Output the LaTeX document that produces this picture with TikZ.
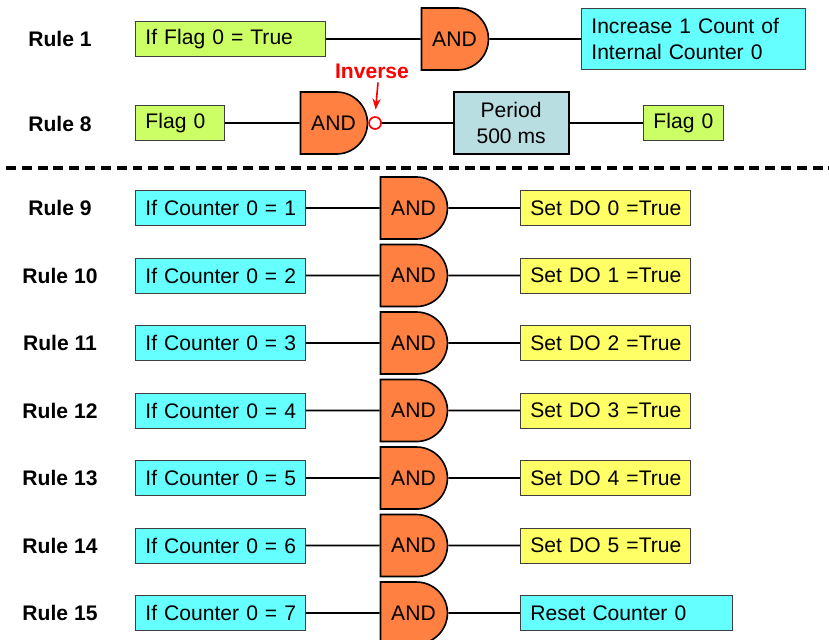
\documentclass[tikz,border=0pt]{standalone}
\usepackage{fontspec}
\setmainfont{Liberation Sans}
\usetikzlibrary{arrows.meta,positioning,shapes.misc}
\definecolor{flaggreen}{RGB}{204,255,102}
\definecolor{condcyan}{RGB}{102,255,255}
\definecolor{setyellow}{RGB}{255,255,102}
\definecolor{gateorange}{RGB}{255,128,64}
\definecolor{timerblue}{RGB}{185,222,226}

\begin{document}
\begin{tikzpicture}[
  x=0.03cm, y=-0.03cm,
  font=\fontsize{18}{22}\selectfont,
  panel/.style={draw=black!75, line width=0.8pt, inner xsep=0.3cm, anchor=west},
  box/.style={panel, minimum height=1.05cm, text width=#1,
              execute at begin node=\hbox\bgroup, execute at end node=\egroup},
  gate/.style={rounded rectangle, rounded rectangle left arc=none, draw, line width=1.4pt,
               fill=gateorange, minimum width=2.01cm, minimum height=1.86cm, inner sep=0pt},
  rule/.style={font=\fontsize{18}{22}\selectfont\bfseries},
  wire/.style={line width=1.6pt},
]
\useasboundingbox (0,0) rectangle (829,640);

% Rule 1
\node[rule] (r1) at (60,39) {Rule 1};
\node[box=5.1cm, fill=flaggreen] (c1) at (135,39) {If Flag 0 = True};
\node[gate, right=2.84cm of c1] (g1) {AND};
\node[panel, text width=6.12cm, align=left, fill=condcyan, minimum height=1.83cm,
      right=2.75cm of g1] (o1) {Increase 1 Count of\\Internal Counter 0};
\draw[wire] (c1) -- (g1);
\draw[wire] (g1) -- (o1);

% Rule 8
\node[rule] (r8) at (60,124) {Rule 8};
\node[box=2.07cm, fill=flaggreen] (f8) at (135,123) {Flag 0};
\node[gate, right=2.24cm of f8] (g8) {AND};
\node[circle, draw=red, line width=1.4pt, fill=white, minimum size=0.36cm, inner sep=0pt,
      right=0pt of g8] (inv) {};
\node[draw, line width=1.8pt, fill=timerblue, minimum width=3.45cm, minimum height=1.86cm,
      align=center, right=2.12cm of inv] (per) {Period\\500 ms};
\node[box=1.8cm, fill=flaggreen, right=2.2cm of per] (fo8) {Flag 0};
\node[rule, text=red] (invlbl) at (372,71) {Inverse};
\draw[wire] (f8) -- (g8);
\draw[wire] (inv) -- (per);
\draw[wire] (per) -- (fo8);
\draw[-{Stealth}, red, line width=1.4pt, shorten >=0.2cm]
  ([xshift=0.18cm]invlbl.south) -- (inv.north);

% Separator
\coordinate (sepL) at (6,168);
\coordinate (sepR) at (829,168);
\draw[line width=2.6pt, dash pattern=on 8.5pt off 5pt] (sepL) -- (sepR);

% Rules 9 - 15
\node[rule] (r9) at (60,208) {Rule 9};
\node[box=4.5cm, fill=condcyan] (c9) at (135,208) {If Counter 0 = 1};
\node[gate, right=2.21cm of c9] (g9) {AND};
\node[box=4.5cm, fill=setyellow, right=2.15cm of g9] (o9) {Set DO 0 =True};
\draw[wire] (c9) -- (g9);
\draw[wire] (g9) -- (o9);

\node[rule] (r10) at (60,275.5) {Rule 10};
\node[box=4.5cm, fill=condcyan, below=0.947cm of c9] (c10) {If Counter 0 = 2};
\node[gate, right=2.21cm of c10] (g10) {AND};
\node[box=4.5cm, fill=setyellow, right=2.15cm of g10] (o10) {Set DO 1 =True};
\draw[wire] (c10) -- (g10);
\draw[wire] (g10) -- (o10);

\node[rule] (r11) at (60,343) {Rule 11};
\node[box=4.5cm, fill=condcyan, below=0.947cm of c10] (c11) {If Counter 0 = 3};
\node[gate, right=2.21cm of c11] (g11) {AND};
\node[box=4.5cm, fill=setyellow, right=2.15cm of g11] (o11) {Set DO 2 =True};
\draw[wire] (c11) -- (g11);
\draw[wire] (g11) -- (o11);

\node[rule] (r12) at (60,410.5) {Rule 12};
\node[box=4.5cm, fill=condcyan, below=0.947cm of c11] (c12) {If Counter 0 = 4};
\node[gate, right=2.21cm of c12] (g12) {AND};
\node[box=4.5cm, fill=setyellow, right=2.15cm of g12] (o12) {Set DO 3 =True};
\draw[wire] (c12) -- (g12);
\draw[wire] (g12) -- (o12);

\node[rule] (r13) at (60,478) {Rule 13};
\node[box=4.5cm, fill=condcyan, below=0.947cm of c12] (c13) {If Counter 0 = 5};
\node[gate, right=2.21cm of c13] (g13) {AND};
\node[box=4.5cm, fill=setyellow, right=2.15cm of g13] (o13) {Set DO 4 =True};
\draw[wire] (c13) -- (g13);
\draw[wire] (g13) -- (o13);

\node[rule] (r14) at (60,545.5) {Rule 14};
\node[box=4.5cm, fill=condcyan, below=0.947cm of c13] (c14) {If Counter 0 = 6};
\node[gate, right=2.21cm of c14] (g14) {AND};
\node[box=4.5cm, fill=setyellow, right=2.15cm of g14] (o14) {Set DO 5 =True};
\draw[wire] (c14) -- (g14);
\draw[wire] (g14) -- (o14);

\node[rule] (r15) at (60,613) {Rule 15};
\node[box=4.5cm, fill=condcyan, below=0.947cm of c14] (c15) {If Counter 0 = 7};
\node[gate, right=2.21cm of c15] (g15) {AND};
\node[box=5.76cm, fill=condcyan, right=2.15cm of g15] (o15) {Reset Counter 0};
\draw[wire] (c15) -- (g15);
\draw[wire] (g15) -- (o15);
\end{tikzpicture}
\end{document}
